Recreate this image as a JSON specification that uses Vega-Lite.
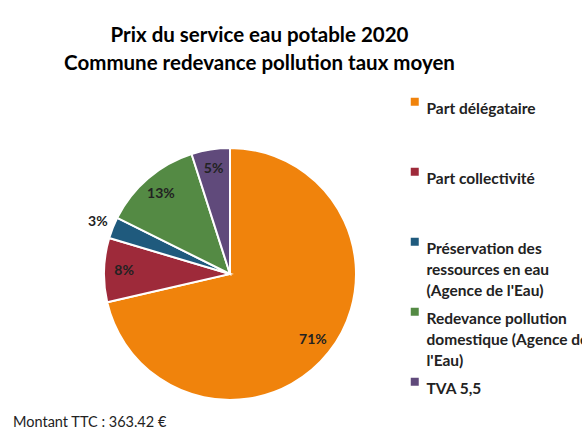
{
  "$schema": "https://vega.github.io/schema/vega-lite/v6.json",
  "padding": {"left": 0, "top": 25, "right": 0, "bottom": 0},
  "background": "white",
  "config": {
    "view": {"stroke": null},
    "font": "Lato",
    "style": {"guide-label": {"lineHeight": 21}}
  },
  "title": {
    "text": ["Prix du service eau potable 2020", "Commune redevance pollution taux moyen"],
    "font": "Lato",
    "fontSize": 20.5,
    "fontWeight": "bold",
    "color": "#000000",
    "lineHeight": 28,
    "anchor": "middle",
    "offset": 20,
    "dx": -35
  },
  "vconcat": [
    {
      "title": {
        "text": "Montant TTC : 363.42 €",
        "orient": "bottom",
        "anchor": "start",
        "font": "Lato",
        "fontSize": 14.5,
        "fontWeight": "normal",
        "color": "#222222",
        "offset": 12,
        "dx": 13
      },
      "width": 460,
      "height": 260,
      "data": {
        "values": [
          {"poste": "Part délégataire", "montant": 259.5, "ordre": 1},
          {"poste": "Part collectivité", "montant": 29.8, "ordre": 2},
          {"poste": "Préservation des ressources en eau (Agence de l'Eau)", "montant": 10.0, "ordre": 3},
          {"poste": "Redevance pollution domestique (Agence de l'Eau)", "montant": 46.2, "ordre": 4},
          {"poste": "TVA 5,5", "montant": 17.92, "ordre": 5}
        ]
      },
      "transform": [
        {"joinaggregate": [{"op": "sum", "field": "montant", "as": "total"}]},
        {"calculate": "datum.montant / datum.total", "as": "part"}
      ],
      "encoding": {
        "theta": {"field": "montant", "type": "quantitative", "stack": true},
        "order": {"field": "ordre", "type": "quantitative"},
        "color": {
          "field": "poste",
          "type": "nominal",
          "scale": {
            "domain": ["Part délégataire", "Part collectivité", "Préservation des ressources en eau (Agence de l'Eau)", "Redevance pollution domestique (Agence de l'Eau)", "TVA 5,5"],
            "range": ["#F0830C", "#9E2A3A", "#1F5A7D", "#548A44", "#604A7B"]
          },
          "legend": {
            "title": null,
            "orient": "none",
            "legendX": 407,
            "legendY": -50,
            "symbolType": "square",
            "symbolSize": 64,
            "symbolStrokeWidth": 0,
            "labelFont": "Lato",
            "labelFontSize": 15.5,
            "labelFontWeight": "bold",
            "labelColor": "#222222",
            "labelOffset": 4,
            "labelBaseline": "top",
            "labelLimit": 400,
            "gridAlign": "all",
            "rowPadding": 4,
            "padding": 0,
            "labelExpr": "datum.label === \"Préservation des ressources en eau (Agence de l'Eau)\" ? [\"Préservation des\", \"ressources en eau\", \"(Agence de l'Eau)\"] : datum.label === \"Redevance pollution domestique (Agence de l'Eau)\" ? [\"Redevance pollution\", \"domestique (Agence de\", \"l'Eau)\"] : datum.label"
          }
        }
      },
      "layer": [
        {
          "mark": {"type": "arc", "outerRadius": 126, "stroke": "white", "strokeWidth": 2}
        },
        {
          "mark": {"type": "text", "radius": 106, "font": "Lato", "fontSize": 14, "fontWeight": "bold"},
          "encoding": {
            "text": {"field": "part", "type": "quantitative", "format": ".0%"},
            "color": {"value": "#222222"},
            "opacity": {"condition": {"test": "datum.ordre == 3", "value": 0}, "value": 1}
          }
        },
        {
          "mark": {"type": "text", "radius": 142, "font": "Lato", "fontSize": 14, "fontWeight": "bold"},
          "encoding": {
            "text": {"field": "part", "type": "quantitative", "format": ".0%"},
            "color": {"value": "#222222"},
            "opacity": {"condition": {"test": "datum.ordre == 3", "value": 1}, "value": 0}
          }
        }
      ]
    }
  ]
}
